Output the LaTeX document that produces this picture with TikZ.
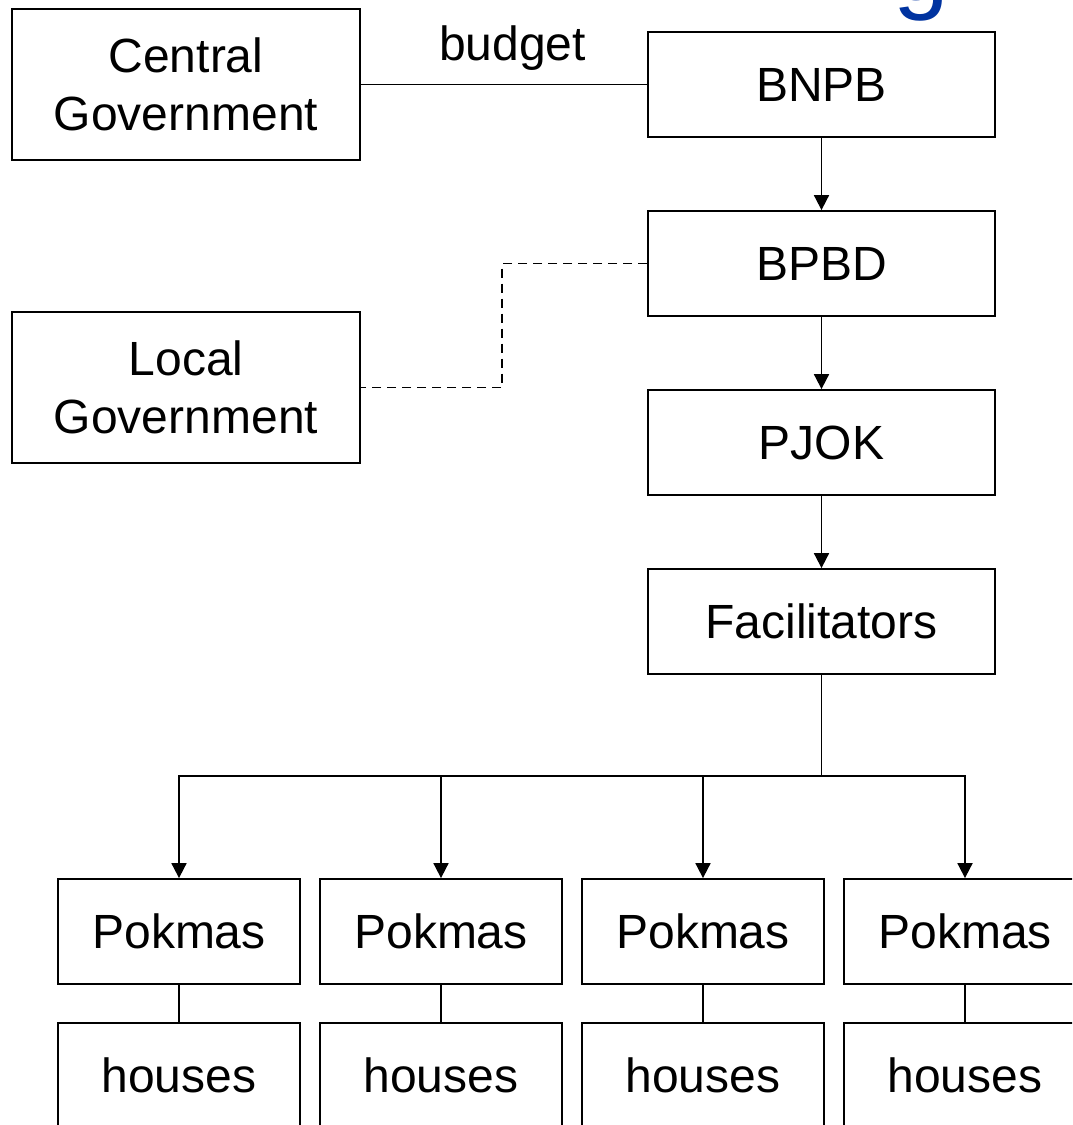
\documentclass[tikz,border=0pt]{standalone}
\usepackage{fontspec}
\setmainfont{Liberation Sans}
\usetikzlibrary{arrows.meta}
\definecolor{titleblue}{RGB}{0,51,160}
\begin{document}
\begin{tikzpicture}[x=1pt,y=-1pt,
  box/.style={draw, line width=1.8pt, inner sep=0pt, align=center,
    font=\fontsize{48}{57.6}\selectfont},
  bigbox/.style={box, minimum width=348pt, minimum height=151pt},
  orgbox/.style={box, minimum width=347pt, minimum height=105pt},
  smallbox/.style={box, minimum width=242pt, minimum height=105pt},
  conn/.style={line width=1.8pt},
  arr/.style={conn, -{Triangle[length=15pt,width=15pt]}},
  dashconn/.style={line width=1.6pt, dash pattern=on 9pt off 6pt}]
\useasboundingbox (0,0) rectangle (1072,1125);
\clip (0,0) rectangle (1072,1125);
\fill[white] (0,0) rectangle (1072,1125);
% fragment of a title glyph
\node[anchor=base west, inner sep=0pt, text=titleblue,
  font=\fontsize{100}{120}\selectfont] (title) at (893,0) {g};
% nodes
\node[bigbox] (cg) at (186,84.5) {Central\\Government};
\node[bigbox] (lg) at (186,387.5) {Local\\Government};
\node[orgbox] (bnpb) at (821.5,84.5) {BNPB};
\node[orgbox] (bpbd) at (821.5,263.5) {BPBD};
\node[orgbox] (pjok) at (821.5,442.5) {PJOK};
\node[orgbox] (fac) at (821.5,621.5) {Facilitators};
\foreach \i/\x in {1/179,2/441,3/703,4/965}{
  \node[smallbox] (p\i) at (\x,931.5) {Pokmas};
  \node[smallbox] (h\i) at (\x,1075.5) {houses};
  \draw[conn] (p\i.south) -- (h\i.north);
}
\coordinate (junc) at (821.5,776);
% connectors
\draw[conn] (cg.east) -- node[pos=0.53, yshift=36pt, font=\fontsize{48}{57.6}\selectfont] (budget) {budget} (bnpb.west);
\draw[arr] (bnpb.south) -- (bpbd.north);
\draw[arr] (bpbd.south) -- (pjok.north);
\draw[arr] (pjok.south) -- (fac.north);
\draw[conn] (fac.south) -- (junc);
\foreach \i in {1,2,3,4}{
  \draw[arr] (junc) -| (p\i.north);
}
\draw[dashconn] (bpbd.west) -- ++(-145,0) |- (lg.east);
\end{tikzpicture}
\end{document}
